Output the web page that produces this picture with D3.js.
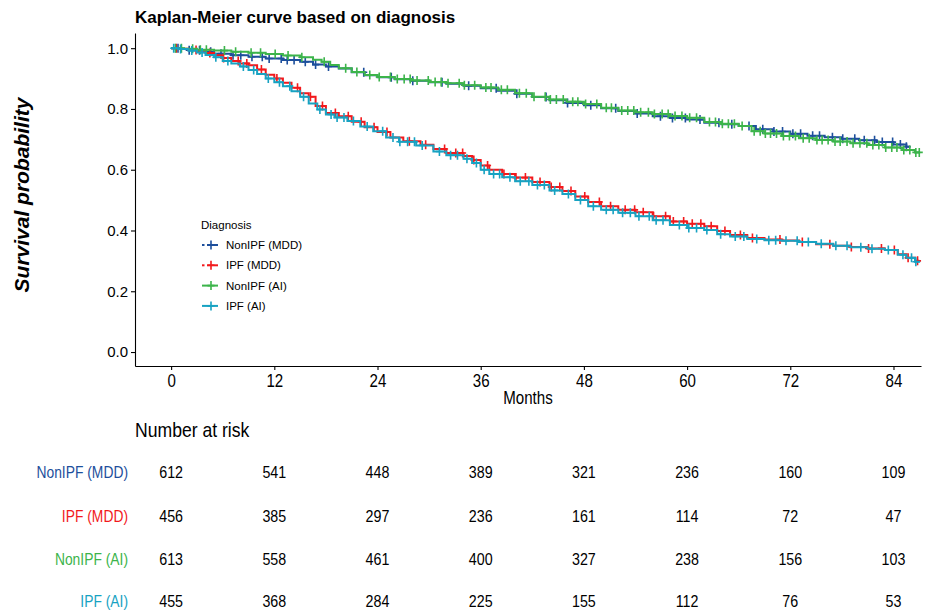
<!DOCTYPE html>
<html lang="en">
<head>
<meta charset="utf-8">
<title>Kaplan-Meier curve based on diagnosis</title>
<script src="https://d3js.org/d3.v7.min.js"></script>
<style>
  body { margin: 0; background: #fff; }
</style>
</head>
<body>
<script>

// groups and colours
var groups = ["NonIPF (MDD)", "IPF (MDD)", "NonIPF (AI)", "IPF (AI)"];
var colors = ["#1d4f9c", "#f2191c", "#3cb44b", "#17a2c2"];

// number at risk table
var riskTimes = [0, 12, 24, 36, 48, 60, 72, 84];
var riskNonIpfMdd = [612, 541, 448, 389, 321, 236, 160, 109];
var riskIpfMdd = [456, 385, 297, 236, 161, 114, 72, 47];
var riskNonIpfAi = [613, 558, 461, 400, 327, 238, 156, 103];
var riskIpfAi = [455, 368, 284, 225, 155, 112, 76, 53];

var xTicks = [0, 12, 24, 36, 48, 60, 72, 84];
var yTicks = [0, 0.2, 0.4, 0.6, 0.8, 1.0];

// survival steps [month, probability]
var survNonIpfMdd = [[0,1],[1,0.997],[2,0.993],[3.5,0.988],[5,0.982],[7,0.977],[9,0.972],[11,0.966],
  [13,0.961],[15,0.955],[16.5,0.946],[18,0.94],[19.5,0.933],[21,0.921],[22.5,0.911],[24,0.904],
  [26,0.898],[28,0.893],[30,0.888],[32,0.883],[34,0.876],[36,0.868],[38,0.86],[40,0.85],[42,0.839],
  [44,0.829],[46,0.82],[48,0.812],[50,0.802],[52,0.793],[54,0.785],[56,0.776],[58,0.77],[60,0.765],
  [62,0.755],[64,0.75],[66,0.744],[68,0.733],[70,0.726],[72,0.718],[74,0.712],[76,0.707],[78,0.702],
  [80,0.697],[82,0.691],[84,0.683],[85.5,0.676]];
var survIpfMdd = [[0,1],[1,0.998],[2,0.994],[3,0.99],[4,0.984],[5,0.977],[6,0.968],[7,0.958],[8,0.95],
  [9,0.944],[10,0.93],[11,0.913],[12,0.9],[13,0.886],[14,0.87],[15,0.852],[16,0.84],[16.8,0.81],
  [18,0.787],[19.5,0.776],[21,0.758],[22.5,0.74],[24,0.724],[25.5,0.706],[27,0.694],[29,0.682],
  [30.5,0.668],[32,0.655],[34,0.645],[35,0.632],[36,0.614],[37,0.6],[38.5,0.586],[40,0.574],[42,0.56],
  [44,0.543],[45.5,0.53],[47,0.512],[48.5,0.494],[50,0.48],[52,0.468],[54,0.46],[56,0.447],[58,0.43],
  [60,0.422],[62,0.414],[63.5,0.398],[65,0.385],[67,0.375],[69,0.37],[71,0.367],[73,0.362],[75,0.355],
  [77,0.35],[79,0.346],[81,0.341],[83,0.336],[84.5,0.322],[85.5,0.31],[86.5,0.3]];
var survNonIpfAi = [[0,1],[1.5,0.998],[3,0.995],[5,0.992],[7,0.988],[9,0.985],[11,0.981],[13,0.976],
  [15,0.97],[16.5,0.962],[17.5,0.955],[18.5,0.945],[19.5,0.934],[21,0.922],[22.5,0.912],[24,0.905],
  [26,0.899],[28,0.894],[30,0.889],[32,0.885],[34,0.878],[36,0.871],[38,0.863],[40,0.852],[42,0.84],
  [44,0.831],[46,0.824],[48,0.816],[50,0.804],[52,0.795],[54,0.789],[56,0.783],[58,0.777],[60,0.771],
  [62,0.757],[64,0.751],[66,0.744],[67.5,0.727],[69,0.719],[71,0.711],[73,0.704],[75,0.698],[77,0.693],
  [79,0.687],[81,0.681],[83,0.673],[85,0.665],[86.5,0.657]];
var survIpfAi = [[0,1],[1,0.997],[2,0.992],[3,0.986],[4,0.978],[5,0.97],[6,0.958],[7,0.95],[8,0.94],
  [9,0.928],[10,0.915],[11,0.9],[12,0.888],[13,0.875],[14,0.858],[15,0.84],[16,0.818],[17,0.798],
  [18,0.782],[19,0.772],[20.5,0.76],[22,0.742],[23.5,0.727],[25,0.706],[26.5,0.692],[28.5,0.68],
  [30.5,0.66],[32,0.648],[34,0.636],[35,0.622],[36,0.6],[37,0.586],[38.5,0.575],[40,0.562],[42,0.55],
  [44,0.532],[45.5,0.52],[47,0.5],[48.5,0.48],[50,0.468],[52,0.458],[54,0.447],[56,0.434],[58,0.418],
  [60,0.408],[62,0.402],[63.5,0.388],[65,0.38],[67,0.372],[69,0.368],[71,0.366],[73,0.362],[75,0.356],
  [77,0.35],[79,0.345],[81,0.34],[83,0.336],[84.5,0.32],[85.5,0.31],[86.5,0.297]];

var endTimes = [86, 87, 87.1, 87.1];

// censored times (the + marks)
var censorNonIpfMdd = [0.8,2.1,3.3,4.6,5.8,7.2,8.1,9.4,10.6,11.4,12.8,13.5,14.3,15.6,16.8,18.3,22.4,25.6,
  28.1,31.5,34.6,37.8,40.2,43.6,46.1,48.8,51.7,54.2,56.9,58.3,59.8,61.5,63.7,65.2,67.2,68.8,70.1,71.1,
  72.3,73.2,74.6,75.4,76.9,78.1,79.5,80.6,81.8,82.7,83.9,84.8,85.5];
var censorIpfMdd = [0.6,2.9,4.5,6.1,7.8,8.8,10.5,12.3,14.7,16.2,17.6,19.1,20.6,22.1,23.6,25.1,27.7,29.6,
  31.8,33.1,33.9,35.2,36.8,38.7,40.1,41.2,42.9,44.2,45.2,46.5,48.1,49.8,51.1,52.8,53.9,54.9,56.1,57.5,
  58.4,59.6,60.6,61.6,62.8,64.4,66.2,67.6,70.8,73.4,76.6,79.1,81.1,82.6,84.1,85.7,86.8];
var censorNonIpfAi = [0.5,1.2,2.5,3.4,4.1,6.2,7.5,9.3,10.4,12.1,13.6,15.2,17.8,20.3,21.6,23.1,24.2,25.5,
  26.3,27.1,27.8,28.6,29.9,30.7,31.4,32.2,33.5,34.1,35.3,36.6,37.2,38.4,39.1,40.5,41.3,42.2,43.5,44.1,
  44.8,45.6,46.7,47.3,48.2,49.5,50.6,51.2,52.4,53.1,53.8,54.6,55.5,56.2,57.1,57.8,58.6,59.4,60.3,61.1,
  62.6,63.3,64.1,64.8,65.5,66.4,67.8,68.5,69.1,69.7,70.4,71.2,71.9,72.6,73.5,74.2,75.1,75.7,76.4,77.2,
  77.8,78.6,79.3,80.1,80.9,81.6,82.3,83.1,83.8,84.4,85.2,85.9,86.6,87];
var censorIpfAi = [0.3,1.1,2.4,3.6,5.2,6.6,8.4,9.6,11.3,12.6,13.8,15.4,17.3,18.6,19.3,20.1,21.2,22.8,24.6,
  25.8,26.6,27.5,28.3,29.2,31.2,32.5,33.3,34.4,35.5,36.4,37.5,38.2,39.4,40.6,41.6,42.6,43.4,44.6,46.2,
  47.6,49.1,50.6,51.4,52.5,53.4,54.4,55.6,56.4,57.2,59.1,60.2,61.1,62.3,63.9,65.6,66.6,68.1,69.5,70.3,
  71.5,72.8,74.1,75.6,77.3,78.6,80.2,81.5,83.4,85.1,86.1,86.6];

var survs = [survNonIpfMdd, survIpfMdd, survNonIpfAi, survIpfAi];
var censors = [censorNonIpfMdd, censorIpfMdd, censorNonIpfAi, censorIpfAi];
var risks = [riskNonIpfMdd, riskIpfMdd, riskNonIpfAi, riskIpfAi];

var w = 928, h = 614;
var font = "'Liberation Sans', Arial, sans-serif";
// the reference uses a condensed face; squeeze regular text horizontally
var squeeze = "scale(0.84,1)";

var svg = d3.select("body").append("svg")
    .attr("width", w)
    .attr("height", h)
    .style("display", "block")
    .style("font-family", font);

var x = d3.scaleLinear().domain([-4.2, 87.2]).range([135, 921]);
var y = d3.scaleLinear().domain([-0.046, 1.05]).range([366, 33]);

// title
svg.append("text")
    .attr("x", 135).attr("y", 23)
    .style("font-size", "17px")
    .style("font-weight", "bold")
    .text("Kaplan-Meier curve based on diagnosis");

// axes
var yAxis = d3.axisLeft(y).tickValues(yTicks).tickFormat(d3.format(".1f")).tickSize(4).tickSizeOuter(0);
var xAxis = d3.axisBottom(x).tickValues(xTicks).tickSize(4).tickSizeOuter(0);

var gy = svg.append("g").attr("transform", "translate(135,0)").call(yAxis);
var gx = svg.append("g").attr("transform", "translate(0,366)").call(xAxis);

gy.selectAll("text").style("font-family", font).style("font-size", "15px").attr("fill", "#000").attr("x", -7);
gx.selectAll("text").style("font-family", font).style("font-size", "18px").attr("fill", "#000")
    .attr("y", 8).attr("transform", squeeze);
svg.selectAll(".domain, .tick line").attr("stroke", "#000").attr("stroke-width", 1.1);

svg.append("text")
    .attr("transform", "translate(29,195) rotate(-90)")
    .attr("text-anchor", "middle")
    .style("font-size", "21px")
    .style("font-weight", "bold")
    .style("font-style", "italic")
    .text("Survival probability");

svg.append("g")
    .attr("transform", "translate(528,404)")
  .append("text")
    .attr("text-anchor", "middle")
    .attr("transform", squeeze)
    .style("font-size", "18px")
    .text("Months");

// curves
function survAt(curve, t) {
  var i = d3.bisector(function(d) { return d[0]; }).right(curve, t) - 1;
  return curve[Math.max(0, i)][1];
}

var line = d3.line()
    .x(function(d) { return x(d[0]); })
    .y(function(d) { return y(d[1]); })
    .curve(d3.curveStepAfter);

var plus = "M-3.5,0H3.5M0,-4.5V4.5";

survs.forEach(function(curve, k) {
  var pts = curve.concat([[endTimes[k], curve[curve.length - 1][1]]]);
  var g = svg.append("g");
  g.append("path")
      .attr("d", line(pts))
      .attr("fill", "none")
      .attr("stroke", colors[k])
      .attr("stroke-width", 2);
  g.selectAll("path.cens")
    .data(censors[k])
    .enter().append("path")
      .attr("class", "cens")
      .attr("d", plus)
      .attr("transform", function(t) { return "translate(" + x(t) + "," + y(survAt(curve, t)) + ")"; })
      .attr("stroke", colors[k])
      .attr("stroke-width", 1.6)
      .attr("fill", "none");
});

// legend
var leg = svg.append("g");
leg.append("text")
    .attr("x", 201).attr("y", 229)
    .style("font-size", "11.5px")
    .text("Diagnosis");

groups.forEach(function(name, k) {
  var ly = 245 + k * 20.3;
  if (k < 2) {
    leg.append("line").attr("x1", 202).attr("x2", 204.5).attr("y1", ly).attr("y2", ly)
        .attr("stroke", colors[k]).attr("stroke-width", 2);
    leg.append("line").attr("x1", 207).attr("x2", 218).attr("y1", ly).attr("y2", ly)
        .attr("stroke", colors[k]).attr("stroke-width", 2);
  } else {
    leg.append("line").attr("x1", 202).attr("x2", 218).attr("y1", ly).attr("y2", ly)
        .attr("stroke", colors[k]).attr("stroke-width", 2);
  }
  leg.append("path").attr("d", plus).attr("transform", "translate(211," + ly + ")")
      .attr("stroke", colors[k]).attr("stroke-width", 1.6).attr("fill", "none");
  leg.append("text")
      .attr("x", 226).attr("y", ly + 4)
      .style("font-size", "11.5px")
      .text(name);
});

// number at risk table
svg.append("g")
    .attr("transform", "translate(135,437)")
  .append("text")
    .attr("transform", "scale(0.88,1)")
    .style("font-size", "20px")
    .text("Number at risk");

var rowY = [472, 516, 559, 601];
groups.forEach(function(name, k) {
  svg.append("g")
      .attr("transform", "translate(128," + rowY[k] + ")")
    .append("text")
      .attr("dy", "0.35em")
      .attr("transform", squeeze)
      .attr("text-anchor", "end")
      .attr("fill", colors[k])
      .style("font-size", "16.5px")
      .text(name);
  svg.append("g").selectAll("g")
    .data(risks[k])
    .enter().append("g")
      .attr("transform", function(d, i) { return "translate(" + x(riskTimes[i]) + "," + rowY[k] + ")"; })
    .append("text")
      .attr("dy", "0.35em")
      .attr("transform", squeeze)
      .attr("text-anchor", "middle")
      .style("font-size", "17px")
      .text(function(d) { return d; });
});

</script>
</body>
</html>
